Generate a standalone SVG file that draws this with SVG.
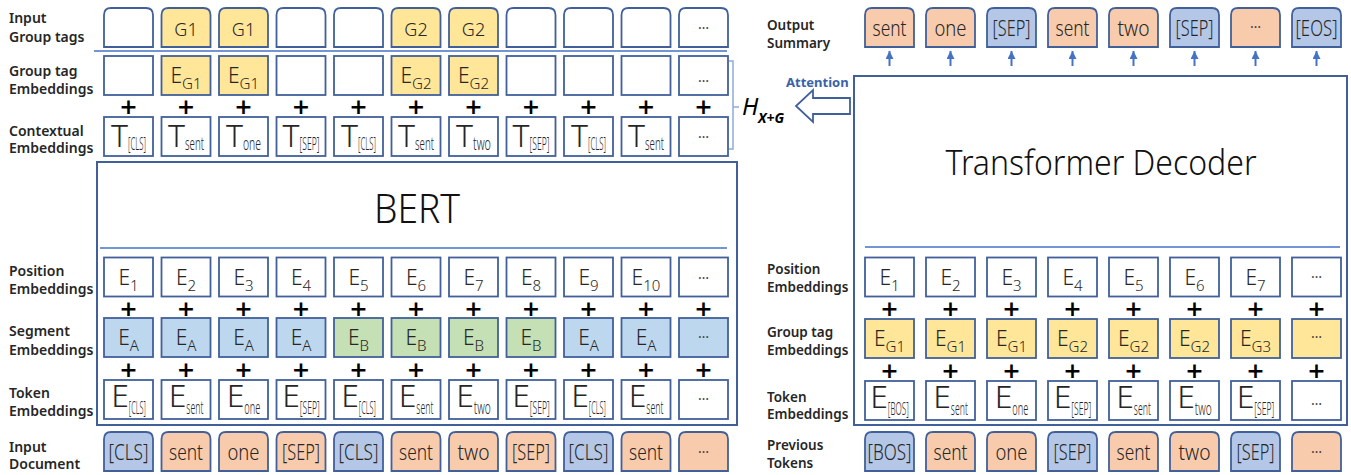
<svg xmlns="http://www.w3.org/2000/svg" width="1351" height="475" viewBox="0 0 1351 475">
<style>
  .lbl{font-family:"Noto Sans","DejaVu Sans",sans-serif;font-size:14px;font-weight:600;fill:#262626}
  .lblr{font-size:13.5px}
  .cell{stroke:#41609a;stroke-width:1.8}
  .fw{fill:#fff}.fy{fill:#FFE699}.fo{fill:#F8CBAD}.fb{fill:#B4C7E7}.fs{fill:#BDD7EE}.fg{fill:#C5E0B4}
  .t{font-family:"Noto Sans","DejaVu Sans",sans-serif;font-weight:300;fill:#262626;text-anchor:middle}
  .f18{font-size:18px}.f21{font-size:21px}.f32{font-size:32px}
  .u15{font-size:15px}.u18{font-size:18px}
  .tokrow text.t{font-size:22.5px}
  .dots{font-family:"Noto Sans","DejaVu Sans",sans-serif;font-size:14px;fill:#404040;text-anchor:middle}
  .plus{font-family:"DejaVu Sans","Liberation Sans",sans-serif;font-weight:700;font-size:22px;fill:#000;text-anchor:middle}
  .frame{fill:#fff;stroke:#41609a;stroke-width:2}
  .rule{stroke:#4472C4;stroke-width:1.3;fill:none}
  .title{font-family:"Noto Sans","DejaVu Sans",sans-serif;font-weight:300;fill:#111;text-anchor:middle}
  .arr{stroke:#4472C4;stroke-width:2;fill:none}
</style>
<defs>
  <!-- square embedding cell and tab-shaped token cell (rounded top corners) -->
  <rect id="sq" width="49" height="39"/>
  <path id="tab" d="M0,39 V7 Q0,0 7,0 H42 Q49,0 49,7 V39 Z"/>
  <marker id="ah" viewBox="0 0 8 8" refX="8" refY="4" markerWidth="8" markerHeight="8" markerUnits="userSpaceOnUse" orient="auto">
    <path d="M0,0 L8,4 L0,8 Z" fill="#4472C4"/>
  </marker>
</defs>
<rect width="1351" height="475" fill="#fff"/>

<!-- ===== Encoder side ===== -->
<g id="bert">
  <rect class="frame" x="97" y="162" width="640" height="263"/>
  <text class="title" x="417" y="223" font-size="40" textLength="86" lengthAdjust="spacingAndGlyphs">BERT</text>
  <line class="rule" x1="100" y1="248" x2="727" y2="248"/>
</g>
<line class="rule" x1="94" y1="51" x2="727" y2="51"/>

<g id="left-labels" class="lbl">
  <text x="9" y="23">Input</text><text x="9" y="42">Group tags</text>
  <text x="9" y="76">Group tag</text><text x="9" y="94">Embeddings</text>
  <text x="9" y="136">Contextual</text><text x="9" y="153">Embeddings</text>
  <text x="9" y="276">Position</text><text x="9" y="294">Embeddings</text>
  <text x="9" y="336">Segment</text><text x="9" y="355">Embeddings</text>
  <text x="9" y="398">Token</text><text x="9" y="416">Embeddings</text>
  <text x="9" y="452">Input</text><text x="9" y="469">Document</text>
</g>

<!-- input group tags -->
<g id="tag-row">
  <g id="tag-1"><use href="#tab" class="cell fw" x="104" y="8"/></g>
  <g id="tag-2"><use href="#tab" class="cell fy" x="161.5" y="8"/><text class="t f18" x="186" y="36">G1</text></g>
  <g id="tag-3"><use href="#tab" class="cell fy" x="219" y="8"/><text class="t f18" x="243.5" y="36">G1</text></g>
  <g id="tag-4"><use href="#tab" class="cell fw" x="276.5" y="8"/></g>
  <g id="tag-5"><use href="#tab" class="cell fw" x="334" y="8"/></g>
  <g id="tag-6"><use href="#tab" class="cell fy" x="391.5" y="8"/><text class="t f18" x="416" y="36">G2</text></g>
  <g id="tag-7"><use href="#tab" class="cell fy" x="449" y="8"/><text class="t f18" x="473.5" y="36">G2</text></g>
  <g id="tag-8"><use href="#tab" class="cell fw" x="506.5" y="8"/></g>
  <g id="tag-9"><use href="#tab" class="cell fw" x="564" y="8"/></g>
  <g id="tag-10"><use href="#tab" class="cell fw" x="621.5" y="8"/></g>
  <g id="tag-11"><use href="#tab" class="cell fw" x="679" y="8"/><text class="dots" x="703.5" y="29">…</text></g>
</g>

<!-- group tag embeddings -->
<g id="gemb-row">
  <g id="gemb-1"><use href="#sq" class="cell fw" x="104" y="56"/></g>
  <g id="gemb-2"><use href="#sq" class="cell fy" x="161.5" y="56"/><text class="t f21" x="186" y="83">E<tspan class="u15" dy="6">G1</tspan></text></g>
  <g id="gemb-3"><use href="#sq" class="cell fy" x="219" y="56"/><text class="t f21" x="243.5" y="83">E<tspan class="u15" dy="6">G1</tspan></text></g>
  <g id="gemb-4"><use href="#sq" class="cell fw" x="276.5" y="56"/></g>
  <g id="gemb-5"><use href="#sq" class="cell fw" x="334" y="56"/></g>
  <g id="gemb-6"><use href="#sq" class="cell fy" x="391.5" y="56"/><text class="t f21" x="416" y="83">E<tspan class="u15" dy="6">G2</tspan></text></g>
  <g id="gemb-7"><use href="#sq" class="cell fy" x="449" y="56"/><text class="t f21" x="473.5" y="83">E<tspan class="u15" dy="6">G2</tspan></text></g>
  <g id="gemb-8"><use href="#sq" class="cell fw" x="506.5" y="56"/></g>
  <g id="gemb-9"><use href="#sq" class="cell fw" x="564" y="56"/></g>
  <g id="gemb-10"><use href="#sq" class="cell fw" x="621.5" y="56"/></g>
  <g id="gemb-11"><use href="#sq" class="cell fw" x="679" y="56"/><text class="dots" x="703.5" y="82">…</text></g>
</g>

<g id="plus-top" class="plus" transform="translate(0,-1.5)">
  <text x="128.5" y="115">+</text><text x="186" y="115">+</text><text x="243.5" y="115">+</text><text x="301" y="115">+</text>
  <text x="358.5" y="115">+</text><text x="416" y="115">+</text><text x="473.5" y="115">+</text><text x="531" y="115">+</text>
  <text x="588.5" y="115">+</text><text x="646" y="115">+</text><text x="703.5" y="115">+</text>
</g>

<!-- contextual embeddings -->
<g id="ctx-row">
  <g id="ctx-1"><use href="#sq" class="cell fw" x="104" y="117"/><text class="t f32" x="128.5" y="147">T<tspan class="u18" dy="3" textLength="18" lengthAdjust="spacingAndGlyphs">[CLS]</tspan></text></g>
  <g id="ctx-2"><use href="#sq" class="cell fw" x="161.5" y="117"/><text class="t f32" x="186" y="147">T<tspan class="u18" dy="3" textLength="19" lengthAdjust="spacingAndGlyphs">sent</tspan></text></g>
  <g id="ctx-3"><use href="#sq" class="cell fw" x="219" y="117"/><text class="t f32" x="243.5" y="147">T<tspan class="u18" dy="3" textLength="18" lengthAdjust="spacingAndGlyphs">one</tspan></text></g>
  <g id="ctx-4"><use href="#sq" class="cell fw" x="276.5" y="117"/><text class="t f32" x="301" y="147">T<tspan class="u18" dy="3" textLength="20" lengthAdjust="spacingAndGlyphs">[SEP]</tspan></text></g>
  <g id="ctx-5"><use href="#sq" class="cell fw" x="334" y="117"/><text class="t f32" x="358.5" y="147">T<tspan class="u18" dy="3" textLength="18" lengthAdjust="spacingAndGlyphs">[CLS]</tspan></text></g>
  <g id="ctx-6"><use href="#sq" class="cell fw" x="391.5" y="117"/><text class="t f32" x="416" y="147">T<tspan class="u18" dy="3" textLength="19" lengthAdjust="spacingAndGlyphs">sent</tspan></text></g>
  <g id="ctx-7"><use href="#sq" class="cell fw" x="449" y="117"/><text class="t f32" x="473.5" y="147">T<tspan class="u18" dy="3" textLength="18" lengthAdjust="spacingAndGlyphs">two</tspan></text></g>
  <g id="ctx-8"><use href="#sq" class="cell fw" x="506.5" y="117"/><text class="t f32" x="531" y="147">T<tspan class="u18" dy="3" textLength="20" lengthAdjust="spacingAndGlyphs">[SEP]</tspan></text></g>
  <g id="ctx-9"><use href="#sq" class="cell fw" x="564" y="117"/><text class="t f32" x="588.5" y="147">T<tspan class="u18" dy="3" textLength="18" lengthAdjust="spacingAndGlyphs">[CLS]</tspan></text></g>
  <g id="ctx-10"><use href="#sq" class="cell fw" x="621.5" y="117"/><text class="t f32" x="646" y="147">T<tspan class="u18" dy="3" textLength="19" lengthAdjust="spacingAndGlyphs">sent</tspan></text></g>
  <g id="ctx-11"><use href="#sq" class="cell fw" x="679" y="117"/><text class="dots" x="703.5" y="138">…</text></g>
</g>

<!-- position embeddings (encoder) -->
<g id="pos-row">
  <g id="pos-1"><use href="#sq" class="cell fw" x="104" y="257.5"/><text class="t f21" x="128.5" y="285">E<tspan class="u15" dy="6">1</tspan></text></g>
  <g id="pos-2"><use href="#sq" class="cell fw" x="161.5" y="257.5"/><text class="t f21" x="186" y="285">E<tspan class="u15" dy="6">2</tspan></text></g>
  <g id="pos-3"><use href="#sq" class="cell fw" x="219" y="257.5"/><text class="t f21" x="243.5" y="285">E<tspan class="u15" dy="6">3</tspan></text></g>
  <g id="pos-4"><use href="#sq" class="cell fw" x="276.5" y="257.5"/><text class="t f21" x="301" y="285">E<tspan class="u15" dy="6">4</tspan></text></g>
  <g id="pos-5"><use href="#sq" class="cell fw" x="334" y="257.5"/><text class="t f21" x="358.5" y="285">E<tspan class="u15" dy="6">5</tspan></text></g>
  <g id="pos-6"><use href="#sq" class="cell fw" x="391.5" y="257.5"/><text class="t f21" x="416" y="285">E<tspan class="u15" dy="6">6</tspan></text></g>
  <g id="pos-7"><use href="#sq" class="cell fw" x="449" y="257.5"/><text class="t f21" x="473.5" y="285">E<tspan class="u15" dy="6">7</tspan></text></g>
  <g id="pos-8"><use href="#sq" class="cell fw" x="506.5" y="257.5"/><text class="t f21" x="531" y="285">E<tspan class="u15" dy="6">8</tspan></text></g>
  <g id="pos-9"><use href="#sq" class="cell fw" x="564" y="257.5"/><text class="t f21" x="588.5" y="285">E<tspan class="u15" dy="6">9</tspan></text></g>
  <g id="pos-10"><use href="#sq" class="cell fw" x="621.5" y="257.5"/><text class="t f21" x="646" y="285">E<tspan class="u15" dy="6">10</tspan></text></g>
  <g id="pos-11"><use href="#sq" class="cell fw" x="679" y="257.5"/><text class="dots" x="703.5" y="279">…</text></g>
</g>

<g id="plus-mid" class="plus" transform="translate(0,-1.5)">
  <text x="128.5" y="317">+</text><text x="186" y="317">+</text><text x="243.5" y="317">+</text><text x="301" y="317">+</text>
  <text x="358.5" y="317">+</text><text x="416" y="317">+</text><text x="473.5" y="317">+</text><text x="531" y="317">+</text>
  <text x="588.5" y="317">+</text><text x="646" y="317">+</text><text x="703.5" y="317">+</text>
</g>

<!-- segment embeddings -->
<g id="seg-row">
  <g id="seg-1"><use href="#sq" class="cell fs" x="104" y="318"/><text class="t f21" x="128.5" y="345">E<tspan class="u15" dy="6">A</tspan></text></g>
  <g id="seg-2"><use href="#sq" class="cell fs" x="161.5" y="318"/><text class="t f21" x="186" y="345">E<tspan class="u15" dy="6">A</tspan></text></g>
  <g id="seg-3"><use href="#sq" class="cell fs" x="219" y="318"/><text class="t f21" x="243.5" y="345">E<tspan class="u15" dy="6">A</tspan></text></g>
  <g id="seg-4"><use href="#sq" class="cell fs" x="276.5" y="318"/><text class="t f21" x="301" y="345">E<tspan class="u15" dy="6">A</tspan></text></g>
  <g id="seg-5"><use href="#sq" class="cell fg" x="334" y="318"/><text class="t f21" x="358.5" y="345">E<tspan class="u15" dy="6">B</tspan></text></g>
  <g id="seg-6"><use href="#sq" class="cell fg" x="391.5" y="318"/><text class="t f21" x="416" y="345">E<tspan class="u15" dy="6">B</tspan></text></g>
  <g id="seg-7"><use href="#sq" class="cell fg" x="449" y="318"/><text class="t f21" x="473.5" y="345">E<tspan class="u15" dy="6">B</tspan></text></g>
  <g id="seg-8"><use href="#sq" class="cell fg" x="506.5" y="318"/><text class="t f21" x="531" y="345">E<tspan class="u15" dy="6">B</tspan></text></g>
  <g id="seg-9"><use href="#sq" class="cell fs" x="564" y="318"/><text class="t f21" x="588.5" y="345">E<tspan class="u15" dy="6">A</tspan></text></g>
  <g id="seg-10"><use href="#sq" class="cell fs" x="621.5" y="318"/><text class="t f21" x="646" y="345">E<tspan class="u15" dy="6">A</tspan></text></g>
  <g id="seg-11"><use href="#sq" class="cell fs" x="679" y="318"/><text class="dots" x="703.5" y="338">…</text></g>
</g>

<g id="plus-low" class="plus" transform="translate(0,-1.5)">
  <text x="128.5" y="378">+</text><text x="186" y="378">+</text><text x="243.5" y="378">+</text><text x="301" y="378">+</text>
  <text x="358.5" y="378">+</text><text x="416" y="378">+</text><text x="473.5" y="378">+</text><text x="531" y="378">+</text>
  <text x="588.5" y="378">+</text><text x="646" y="378">+</text><text x="703.5" y="378">+</text>
</g>

<!-- token embeddings (encoder) -->
<g id="tok-row">
  <g id="tok-1"><use href="#sq" class="cell fw" x="104" y="380"/><text class="t f32" x="128.5" y="407">E<tspan class="u18" dy="7" textLength="17" lengthAdjust="spacingAndGlyphs">[CLS]</tspan></text></g>
  <g id="tok-2"><use href="#sq" class="cell fw" x="161.5" y="380"/><text class="t f32" x="186" y="407">E<tspan class="u18" dy="7" textLength="17" lengthAdjust="spacingAndGlyphs">sent</tspan></text></g>
  <g id="tok-3"><use href="#sq" class="cell fw" x="219" y="380"/><text class="t f32" x="243.5" y="407">E<tspan class="u18" dy="7" textLength="16" lengthAdjust="spacingAndGlyphs">one</tspan></text></g>
  <g id="tok-4"><use href="#sq" class="cell fw" x="276.5" y="380"/><text class="t f32" x="301" y="407">E<tspan class="u18" dy="7" textLength="20" lengthAdjust="spacingAndGlyphs">[SEP]</tspan></text></g>
  <g id="tok-5"><use href="#sq" class="cell fw" x="334" y="380"/><text class="t f32" x="358.5" y="407">E<tspan class="u18" dy="7" textLength="17" lengthAdjust="spacingAndGlyphs">[CLS]</tspan></text></g>
  <g id="tok-6"><use href="#sq" class="cell fw" x="391.5" y="380"/><text class="t f32" x="416" y="407">E<tspan class="u18" dy="7" textLength="17" lengthAdjust="spacingAndGlyphs">sent</tspan></text></g>
  <g id="tok-7"><use href="#sq" class="cell fw" x="449" y="380"/><text class="t f32" x="473.5" y="407">E<tspan class="u18" dy="7" textLength="17" lengthAdjust="spacingAndGlyphs">two</tspan></text></g>
  <g id="tok-8"><use href="#sq" class="cell fw" x="506.5" y="380"/><text class="t f32" x="531" y="407">E<tspan class="u18" dy="7" textLength="20" lengthAdjust="spacingAndGlyphs">[SEP]</tspan></text></g>
  <g id="tok-9"><use href="#sq" class="cell fw" x="564" y="380"/><text class="t f32" x="588.5" y="407">E<tspan class="u18" dy="7" textLength="17" lengthAdjust="spacingAndGlyphs">[CLS]</tspan></text></g>
  <g id="tok-10"><use href="#sq" class="cell fw" x="621.5" y="380"/><text class="t f32" x="646" y="407">E<tspan class="u18" dy="7" textLength="17" lengthAdjust="spacingAndGlyphs">sent</tspan></text></g>
  <g id="tok-11"><use href="#sq" class="cell fw" x="679" y="380"/><text class="dots" x="703.5" y="400">…</text></g>
</g>

<!-- input document tokens -->
<g id="doc-row" class="tokrow">
  <g id="doc-1"><use href="#tab" class="cell fb" x="104" y="432"/><text class="t" x="128.5" y="460" textLength="40" lengthAdjust="spacingAndGlyphs">[CLS]</text></g>
  <g id="doc-2"><use href="#tab" class="cell fo" x="161.5" y="432"/><text class="t" x="186" y="460" textLength="34" lengthAdjust="spacingAndGlyphs">sent</text></g>
  <g id="doc-3"><use href="#tab" class="cell fo" x="219" y="432"/><text class="t" x="243.5" y="460" textLength="32" lengthAdjust="spacingAndGlyphs">one</text></g>
  <g id="doc-4"><use href="#tab" class="cell fo" x="276.5" y="432"/><text class="t" x="301" y="460" textLength="38" lengthAdjust="spacingAndGlyphs">[SEP]</text></g>
  <g id="doc-5"><use href="#tab" class="cell fb" x="334" y="432"/><text class="t" x="358.5" y="460" textLength="40" lengthAdjust="spacingAndGlyphs">[CLS]</text></g>
  <g id="doc-6"><use href="#tab" class="cell fo" x="391.5" y="432"/><text class="t" x="416" y="460" textLength="34" lengthAdjust="spacingAndGlyphs">sent</text></g>
  <g id="doc-7"><use href="#tab" class="cell fo" x="449" y="432"/><text class="t" x="473.5" y="460" textLength="32" lengthAdjust="spacingAndGlyphs">two</text></g>
  <g id="doc-8"><use href="#tab" class="cell fo" x="506.5" y="432"/><text class="t" x="531" y="460" textLength="38" lengthAdjust="spacingAndGlyphs">[SEP]</text></g>
  <g id="doc-9"><use href="#tab" class="cell fb" x="564" y="432"/><text class="t" x="588.5" y="460" textLength="40" lengthAdjust="spacingAndGlyphs">[CLS]</text></g>
  <g id="doc-10"><use href="#tab" class="cell fo" x="621.5" y="432"/><text class="t" x="646" y="460" textLength="34" lengthAdjust="spacingAndGlyphs">sent</text></g>
  <g id="doc-11"><use href="#tab" class="cell fo" x="679" y="432"/><text class="dots" x="703.5" y="453">…</text></g>
</g>

<!-- encoder output H_{X+G} -->
<g id="hxg">
  <path d="M729,61 H733 V149 H729 M733,107 H739" fill="none" stroke="#8FAADC" stroke-width="1.5"/>
  <text x="742" y="115" font-family="'Noto Sans','DejaVu Sans',sans-serif" font-style="italic" font-size="24" fill="#000">H</text>
  <text x="758" y="123" font-family="'Noto Sans','DejaVu Sans',sans-serif" font-style="italic" font-weight="700" font-size="14" fill="#000">X+G</text>
</g>

<!-- ===== Decoder side ===== -->
<g id="decoder">
  <rect class="frame" x="854" y="76" width="493" height="349"/>
  <text class="title" x="1101" y="175" font-size="35" textLength="311" lengthAdjust="spacingAndGlyphs">Transformer Decoder</text>
  <line class="rule" x1="865" y1="247" x2="1340" y2="247"/>
</g>

<g id="right-labels" class="lbl lblr">
  <text x="767" y="30">Output</text><text x="767" y="48">Summary</text>
  <text x="767" y="274">Position</text><text x="767" y="292">Embeddings</text>
  <text x="767" y="337">Group tag</text><text x="767" y="355">Embeddings</text>
  <text x="767" y="402">Token</text><text x="767" y="419">Embeddings</text>
  <text x="767" y="450">Previous</text><text x="767" y="468">Tokens</text>
</g>

<!-- output summary -->
<g id="out-row" class="tokrow">
  <g id="out-1"><use href="#tab" class="cell fo" x="865" y="8"/><text class="t" x="889.5" y="36" textLength="34" lengthAdjust="spacingAndGlyphs">sent</text></g>
  <g id="out-2"><use href="#tab" class="cell fo" x="926" y="8"/><text class="t" x="950.5" y="36" textLength="32" lengthAdjust="spacingAndGlyphs">one</text></g>
  <g id="out-3"><use href="#tab" class="cell fb" x="987" y="8"/><text class="t" x="1011.5" y="36" textLength="38" lengthAdjust="spacingAndGlyphs">[SEP]</text></g>
  <g id="out-4"><use href="#tab" class="cell fo" x="1048" y="8"/><text class="t" x="1072.5" y="36" textLength="34" lengthAdjust="spacingAndGlyphs">sent</text></g>
  <g id="out-5"><use href="#tab" class="cell fo" x="1109" y="8"/><text class="t" x="1133.5" y="36" textLength="32" lengthAdjust="spacingAndGlyphs">two</text></g>
  <g id="out-6"><use href="#tab" class="cell fb" x="1170" y="8"/><text class="t" x="1194.5" y="36" textLength="38" lengthAdjust="spacingAndGlyphs">[SEP]</text></g>
  <g id="out-7"><use href="#tab" class="cell fo" x="1231" y="8"/><text class="dots" x="1255.5" y="28">…</text></g>
  <g id="out-8"><use href="#tab" class="cell fb" x="1292" y="8"/><text class="t" x="1316.5" y="36" textLength="42" lengthAdjust="spacingAndGlyphs">[EOS]</text></g>
</g>

<!-- position embeddings (decoder) -->
<g id="dpos-row">
  <g id="dpos-1"><use href="#sq" class="cell fw" x="865" y="257.5"/><text class="t f21" x="889.5" y="285">E<tspan class="u15" dy="6">1</tspan></text></g>
  <g id="dpos-2"><use href="#sq" class="cell fw" x="926" y="257.5"/><text class="t f21" x="950.5" y="285">E<tspan class="u15" dy="6">2</tspan></text></g>
  <g id="dpos-3"><use href="#sq" class="cell fw" x="987" y="257.5"/><text class="t f21" x="1011.5" y="285">E<tspan class="u15" dy="6">3</tspan></text></g>
  <g id="dpos-4"><use href="#sq" class="cell fw" x="1048" y="257.5"/><text class="t f21" x="1072.5" y="285">E<tspan class="u15" dy="6">4</tspan></text></g>
  <g id="dpos-5"><use href="#sq" class="cell fw" x="1109" y="257.5"/><text class="t f21" x="1133.5" y="285">E<tspan class="u15" dy="6">5</tspan></text></g>
  <g id="dpos-6"><use href="#sq" class="cell fw" x="1170" y="257.5"/><text class="t f21" x="1194.5" y="285">E<tspan class="u15" dy="6">6</tspan></text></g>
  <g id="dpos-7"><use href="#sq" class="cell fw" x="1231" y="257.5"/><text class="t f21" x="1255.5" y="285">E<tspan class="u15" dy="6">7</tspan></text></g>
  <g id="dpos-8"><use href="#sq" class="cell fw" x="1292" y="257.5"/><text class="dots" x="1316.5" y="278">…</text></g>
</g>

<g id="dplus-mid" class="plus" transform="translate(0,-1.5)">
  <text x="889.5" y="317.5">+</text><text x="950.5" y="317.5">+</text><text x="1011.5" y="317.5">+</text><text x="1072.5" y="317.5">+</text>
  <text x="1133.5" y="317.5">+</text><text x="1194.5" y="317.5">+</text><text x="1255.5" y="317.5">+</text><text x="1316.5" y="317.5">+</text>
</g>

<!-- group tag embeddings (decoder) -->
<g id="dgrp-row">
  <g id="dgrp-1"><use href="#sq" class="cell fy" x="865" y="319"/><text class="t f21" x="889.5" y="346">E<tspan class="u15" dy="6">G1</tspan></text></g>
  <g id="dgrp-2"><use href="#sq" class="cell fy" x="926" y="319"/><text class="t f21" x="950.5" y="346">E<tspan class="u15" dy="6">G1</tspan></text></g>
  <g id="dgrp-3"><use href="#sq" class="cell fy" x="987" y="319"/><text class="t f21" x="1011.5" y="346">E<tspan class="u15" dy="6">G1</tspan></text></g>
  <g id="dgrp-4"><use href="#sq" class="cell fy" x="1048" y="319"/><text class="t f21" x="1072.5" y="346">E<tspan class="u15" dy="6">G2</tspan></text></g>
  <g id="dgrp-5"><use href="#sq" class="cell fy" x="1109" y="319"/><text class="t f21" x="1133.5" y="346">E<tspan class="u15" dy="6">G2</tspan></text></g>
  <g id="dgrp-6"><use href="#sq" class="cell fy" x="1170" y="319"/><text class="t f21" x="1194.5" y="346">E<tspan class="u15" dy="6">G2</tspan></text></g>
  <g id="dgrp-7"><use href="#sq" class="cell fy" x="1231" y="319"/><text class="t f21" x="1255.5" y="346">E<tspan class="u15" dy="6">G3</tspan></text></g>
  <g id="dgrp-8"><use href="#sq" class="cell fy" x="1292" y="319"/><text class="dots" x="1316.5" y="338">…</text></g>
</g>

<g id="dplus-low" class="plus" transform="translate(0,-1.5)">
  <text x="889.5" y="379">+</text><text x="950.5" y="379">+</text><text x="1011.5" y="379">+</text><text x="1072.5" y="379">+</text>
  <text x="1133.5" y="379">+</text><text x="1194.5" y="379">+</text><text x="1255.5" y="379">+</text><text x="1316.5" y="379">+</text>
</g>

<!-- token embeddings (decoder) -->
<g id="dtok-row">
  <g id="dtok-1"><use href="#sq" class="cell fw" x="865" y="381"/><text class="t f32" x="889.5" y="408">E<tspan class="u18" dy="7" textLength="21" lengthAdjust="spacingAndGlyphs">[BOS]</tspan></text></g>
  <g id="dtok-2"><use href="#sq" class="cell fw" x="926" y="381"/><text class="t f32" x="950.5" y="408">E<tspan class="u18" dy="7" textLength="17" lengthAdjust="spacingAndGlyphs">sent</tspan></text></g>
  <g id="dtok-3"><use href="#sq" class="cell fw" x="987" y="381"/><text class="t f32" x="1011.5" y="408">E<tspan class="u18" dy="7" textLength="16" lengthAdjust="spacingAndGlyphs">one</tspan></text></g>
  <g id="dtok-4"><use href="#sq" class="cell fw" x="1048" y="381"/><text class="t f32" x="1072.5" y="408">E<tspan class="u18" dy="7" textLength="20" lengthAdjust="spacingAndGlyphs">[SEP]</tspan></text></g>
  <g id="dtok-5"><use href="#sq" class="cell fw" x="1109" y="381"/><text class="t f32" x="1133.5" y="408">E<tspan class="u18" dy="7" textLength="17" lengthAdjust="spacingAndGlyphs">sent</tspan></text></g>
  <g id="dtok-6"><use href="#sq" class="cell fw" x="1170" y="381"/><text class="t f32" x="1194.5" y="408">E<tspan class="u18" dy="7" textLength="17" lengthAdjust="spacingAndGlyphs">two</tspan></text></g>
  <g id="dtok-7"><use href="#sq" class="cell fw" x="1231" y="381"/><text class="t f32" x="1255.5" y="408">E<tspan class="u18" dy="7" textLength="20" lengthAdjust="spacingAndGlyphs">[SEP]</tspan></text></g>
  <g id="dtok-8"><use href="#sq" class="cell fw" x="1292" y="381"/><text class="dots" x="1316.5" y="405" font-size="12">…</text></g>
</g>

<!-- previous tokens -->
<g id="prev-row" class="tokrow">
  <g id="prev-1"><use href="#tab" class="cell fb" x="865" y="432"/><text class="t" x="889.5" y="460" textLength="44" lengthAdjust="spacingAndGlyphs">[BOS]</text></g>
  <g id="prev-2"><use href="#tab" class="cell fo" x="926" y="432"/><text class="t" x="950.5" y="460" textLength="34" lengthAdjust="spacingAndGlyphs">sent</text></g>
  <g id="prev-3"><use href="#tab" class="cell fo" x="987" y="432"/><text class="t" x="1011.5" y="460" textLength="32" lengthAdjust="spacingAndGlyphs">one</text></g>
  <g id="prev-4"><use href="#tab" class="cell fb" x="1048" y="432"/><text class="t" x="1072.5" y="460" textLength="38" lengthAdjust="spacingAndGlyphs">[SEP]</text></g>
  <g id="prev-5"><use href="#tab" class="cell fo" x="1109" y="432"/><text class="t" x="1133.5" y="460" textLength="34" lengthAdjust="spacingAndGlyphs">sent</text></g>
  <g id="prev-6"><use href="#tab" class="cell fo" x="1170" y="432"/><text class="t" x="1194.5" y="460" textLength="32" lengthAdjust="spacingAndGlyphs">two</text></g>
  <g id="prev-7"><use href="#tab" class="cell fb" x="1231" y="432"/><text class="t" x="1255.5" y="460" textLength="38" lengthAdjust="spacingAndGlyphs">[SEP]</text></g>
  <g id="prev-8"><use href="#tab" class="cell fo" x="1292" y="432"/><text class="dots" x="1316.5" y="453">…</text></g>
</g>

<!-- connectors: decoder outputs and cross attention -->
<g id="connectors">
  <line class="arr" x1="889.5" y1="66" x2="889.5" y2="51" marker-end="url(#ah)"/>
  <line class="arr" x1="950.5" y1="66" x2="950.5" y2="51" marker-end="url(#ah)"/>
  <line class="arr" x1="1011.5" y1="66" x2="1011.5" y2="51" marker-end="url(#ah)"/>
  <line class="arr" x1="1072.5" y1="66" x2="1072.5" y2="51" marker-end="url(#ah)"/>
  <line class="arr" x1="1133.5" y1="66" x2="1133.5" y2="51" marker-end="url(#ah)"/>
  <line class="arr" x1="1194.5" y1="66" x2="1194.5" y2="51" marker-end="url(#ah)"/>
  <line class="arr" x1="1255.5" y1="66" x2="1255.5" y2="51" marker-end="url(#ah)"/>
  <line class="arr" x1="1316.5" y1="66" x2="1316.5" y2="51" marker-end="url(#ah)"/>
  <g id="attention">
    <polygon points="850,98 813,98 813,90 796,106 813,122 813,114 850,114" fill="#fff" stroke="#41609a" stroke-width="1.8" stroke-linejoin="miter"/>
    <text x="786" y="87" font-family="'Noto Sans','DejaVu Sans',sans-serif" font-weight="700" font-size="13" fill="#3A62A8">Attention</text>
  </g>
</g>
</svg>
